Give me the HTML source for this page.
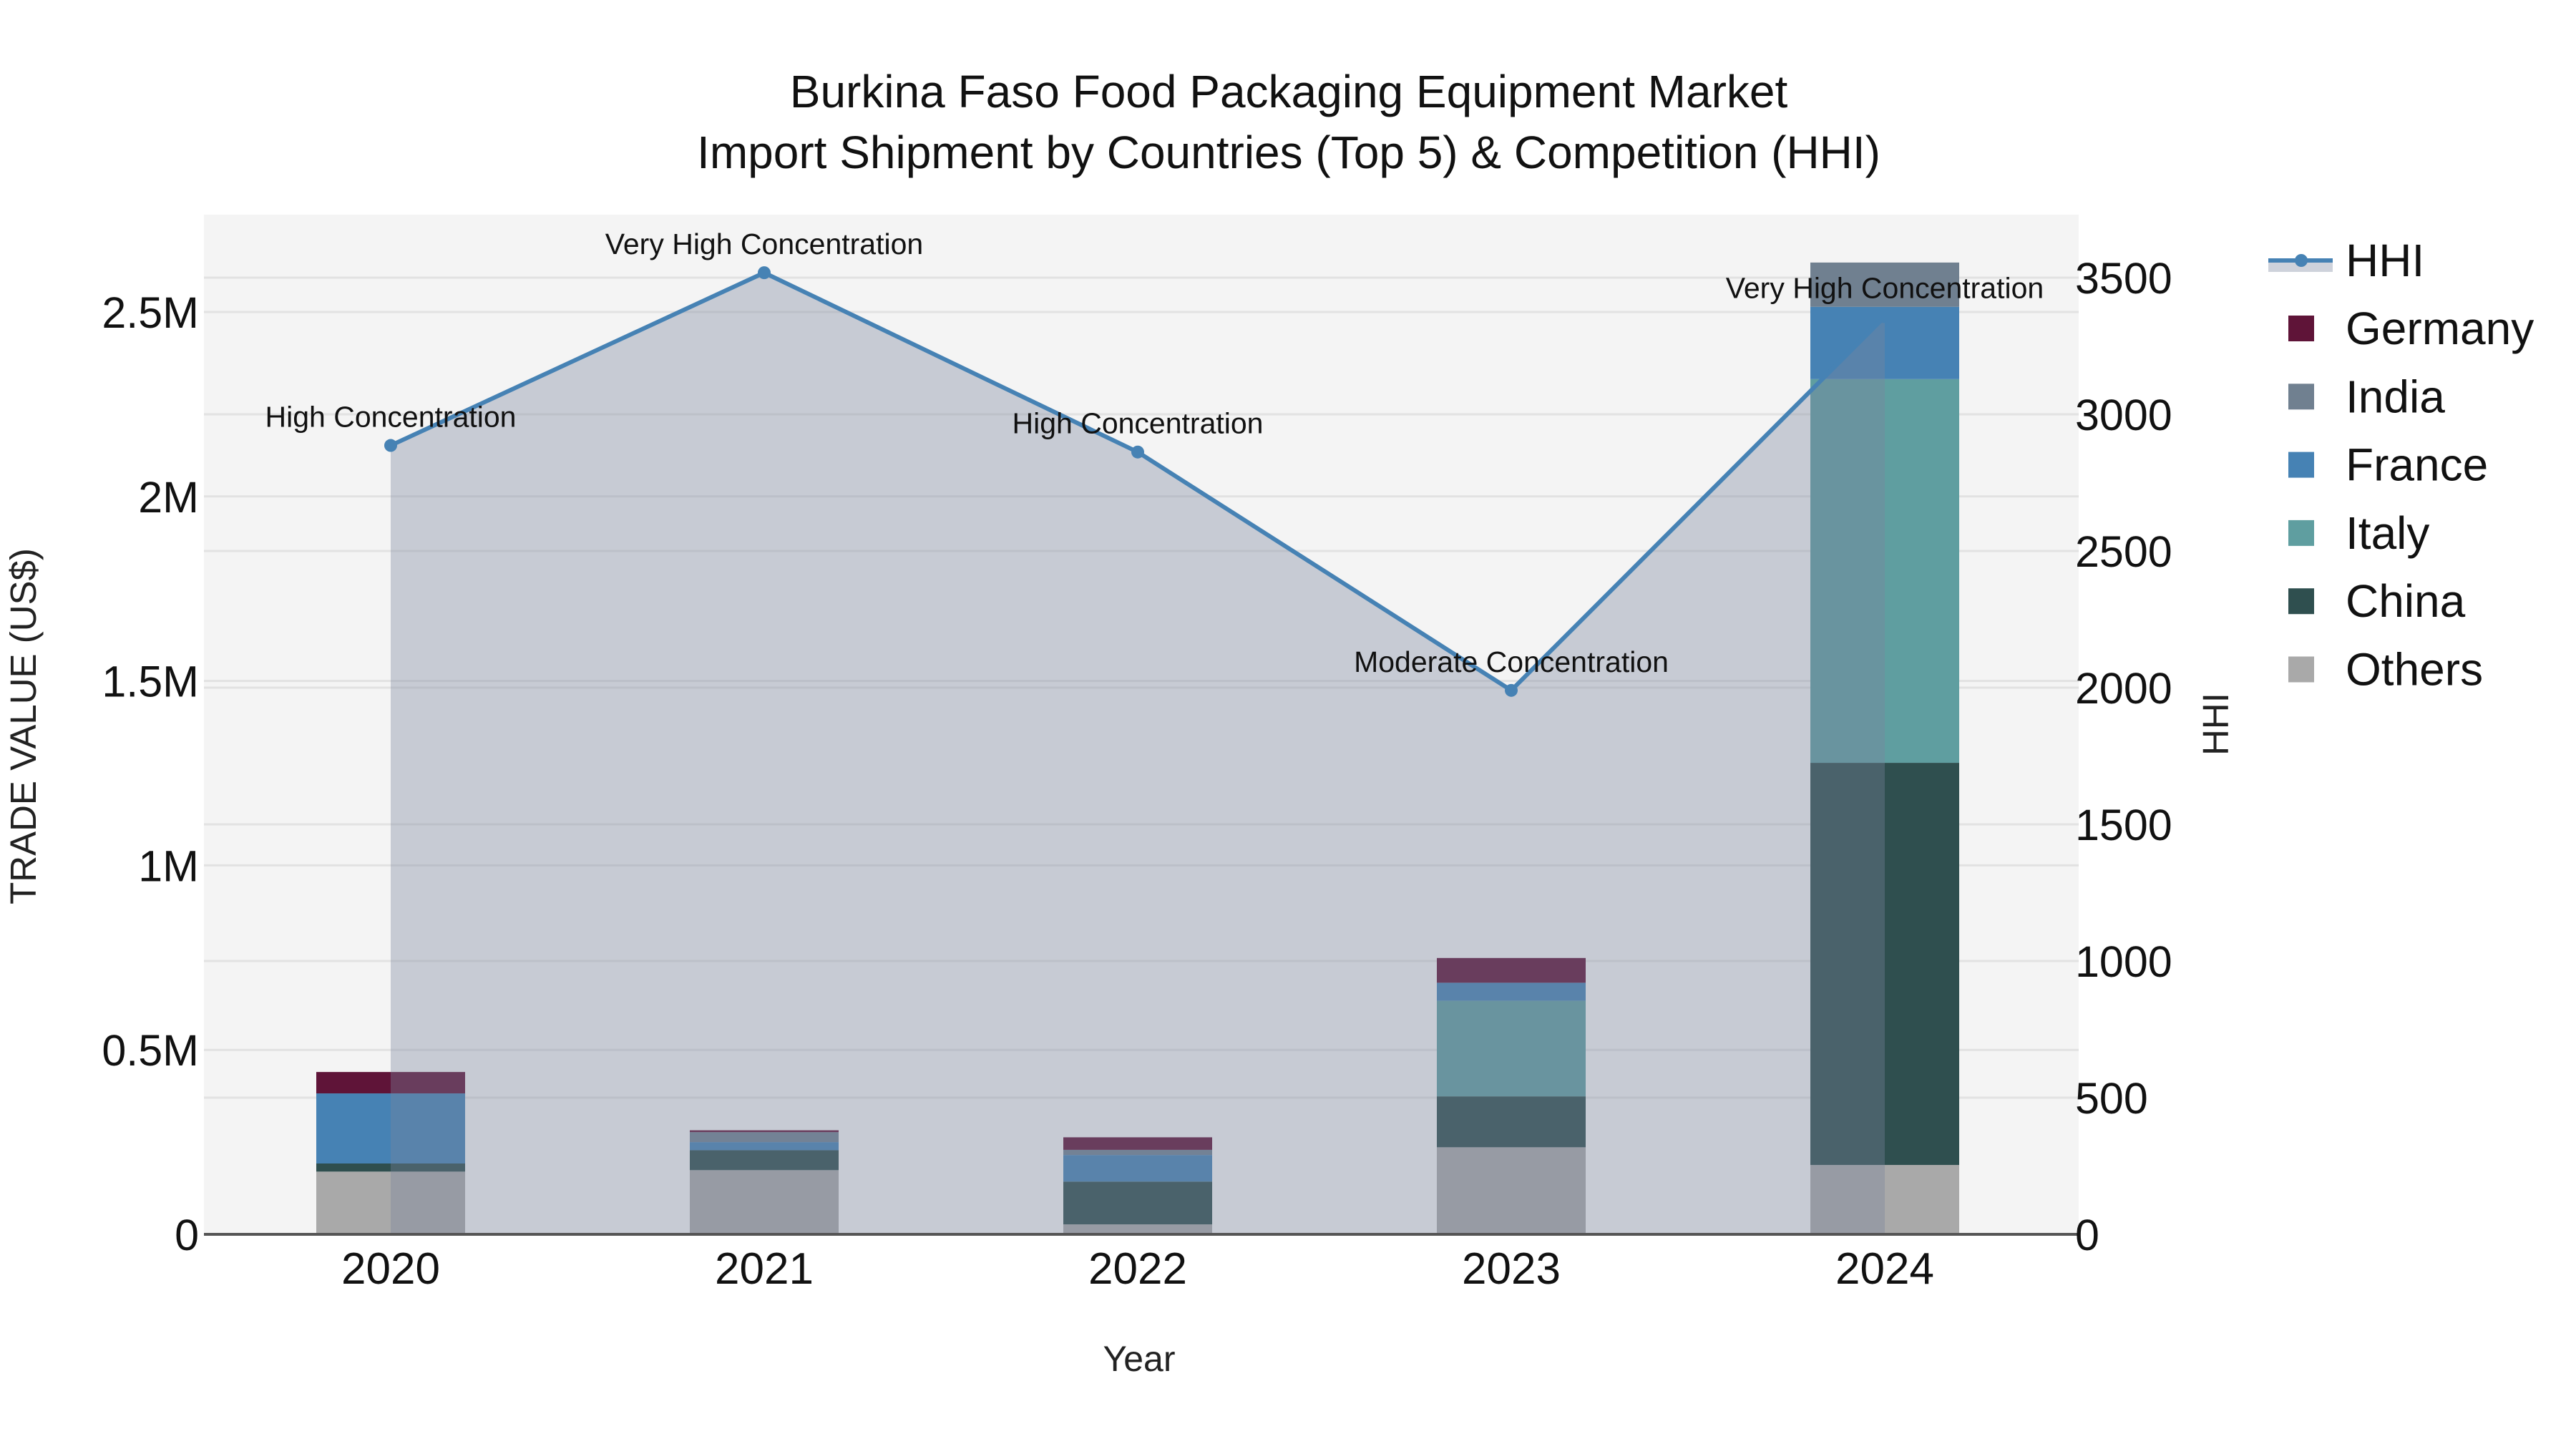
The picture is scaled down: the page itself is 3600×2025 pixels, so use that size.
<!DOCTYPE html>
<html><head><meta charset="utf-8"><style>
html,body{margin:0;padding:0;background:#fff;}
svg{display:block;font-family:"Liberation Sans",Arial,sans-serif;}
</style></head><body>
<svg id="chart" width="3600" height="2025" viewBox="0 0 3600 2025" xmlns="http://www.w3.org/2000/svg">
<text x="1801" y="150" font-size="64" text-anchor="middle" fill="#111">Burkina Faso Food Packaging Equipment Market</text>
<text x="1801" y="235" font-size="64" text-anchor="middle" fill="#111">Import Shipment by Countries (Top 5) &amp; Competition (HHI)</text>
<rect x="285" y="300" width="2620" height="1425" fill="#f4f4f4"/>
<g id="grid"></g>
<g id="bars"></g>
<g id="hhi"></g>
<line x1="285" y1="1725" x2="2905" y2="1725" stroke="#555" stroke-width="4"/>
<g id="ticks"></g>
<text x="1592" y="1916" font-size="50" text-anchor="middle" fill="#222">Year</text>
<text x="50" y="1015" font-size="51" text-anchor="middle" fill="#222" transform="rotate(-90 50 1015)">TRADE VALUE (US$)</text>
<text x="3114" y="1012" font-size="51" text-anchor="middle" fill="#222" transform="rotate(-90 3114 1012)">HHI</text>
<g id="legend"></g>
</svg>
<script>
const years = ["2020","2021","2022","2023","2024"];
const seriesNames = ["Others","China","Italy","France","India","Germany"];
const others  = [0.170, 0.174, 0.027, 0.236, 0.188];
const china   = [0.022, 0.054, 0.116, 0.138, 1.090];
const italy   = [0.000, 0.000, 0.000, 0.259, 1.040];
const france  = [0.190, 0.022, 0.072, 0.049, 0.196];
const india   = [0.000, 0.027, 0.014, 0.000, 0.120];
const germany = [0.058, 0.005, 0.034, 0.067, 0.000];
const hhi = [2886, 3518, 2862, 1990, 3357];
const hhiLabels = ["High Concentration","Very High Concentration","High Concentration","Moderate Concentration","Very High Concentration"];
const leftTicks = [0, 0.5, 1, 1.5, 2, 2.5];
const leftTickLabels = ["0","0.5M","1M","1.5M","2M","2.5M"];
const rightTicks = [0, 500, 1000, 1500, 2000, 2500, 3000, 3500];

const colors = {Others:"#a9a9a9",China:"#2f4f4f",Italy:"#5f9ea0",France:"#4682b4",India:"#708090",Germany:"#5f1438"};
const seriesData = {Others:others,China:china,Italy:italy,France:france,India:india,Germany:germany};
const NS="http://www.w3.org/2000/svg";
const X0=546, DX=522, BASE=1725, PXM=515.6, PXH=0.382, BW=208;
const xs = i => X0 + i*DX;
const yl = v => BASE - v*PXM;
const yr = v => BASE - v*PXH;
function mk(tag, attrs, parent){const e=document.createElementNS(NS,tag);for(const k in attrs)e.setAttribute(k,attrs[k]);parent.appendChild(e);return e;}
const grid=document.getElementById('grid'), bars=document.getElementById('bars'), hg=document.getElementById('hhi'), tk=document.getElementById('ticks'), lg=document.getElementById('legend');

leftTicks.forEach((t,i)=>{
  if(t>0){const l=mk('line',{x1:285,x2:2905,y1:yl(t),y2:yl(t),stroke:"#e2e2e2","stroke-width":3},grid);
  
  }
  const tx=mk('text',{x:278,y:yl(t)+22,"font-size":61,"text-anchor":"end",fill:"#111"},tk);
  tx.textContent=leftTickLabels[i];
  
  
});
rightTicks.forEach(t=>{
  if(t>0){const l=mk('line',{x1:285,x2:2905,y1:yr(t),y2:yr(t),stroke:"#e2e2e2","stroke-width":3},grid);
  
  }
  const tx=mk('text',{x:2900,y:yr(t)+22,"font-size":61,fill:"#111"},tk);
  tx.textContent=String(t);
  
  
});
years.forEach((y,i)=>{
  const tx=mk('text',{x:xs(i),y:1794,"font-size":62,"text-anchor":"middle",fill:"#111"},tk);
  tx.textContent=y;
  
  
  let acc=0;
  seriesNames.forEach(s=>{
    const v=seriesData[s][i]; if(v<=0) return;
    const r=mk('rect',{x:xs(i)-BW/2,y:yl(acc+v),width:BW,height:v*PXM,fill:colors[s]},bars);
    
    
    acc+=v;
  });
});
let pts=hhi.map((v,i)=>xs(i)+','+yr(v)).join(' ');
const area=mk('polygon',{points:xs(0)+','+BASE+' '+pts+' '+xs(hhi.length-1)+','+BASE,fill:"rgb(123,134,156)","fill-opacity":0.37},hg);


const line=mk('polyline',{points:pts,fill:"none",stroke:"#4682b4","stroke-width":6},hg);


hhi.forEach((v,i)=>{
  const c=mk('circle',{cx:xs(i),cy:yr(v),r:9,fill:"#4682b4"},hg);
  
  
  const t=mk('text',{x:xs(i),y:yr(v)-26,"font-size":41,"text-anchor":"middle",fill:"#111"},hg);
  t.textContent=hhiLabels[i];
  
  
});
// legend
const lr=mk('rect',{x:3170,y:364,width:90,height:16,fill:"rgb(123,134,156)","fill-opacity":0.37},lg);


const ll=mk('line',{x1:3170,x2:3260,y1:364,y2:364,stroke:"#4682b4","stroke-width":6},lg);


const lc=mk('circle',{cx:3216,cy:364,r:9,fill:"#4682b4"},lg);


const lt=mk('text',{x:3278,y:386,"font-size":64,fill:"#111"},lg);
lt.textContent="HHI";


["Germany","India","France","Italy","China","Others"].forEach((s,k)=>{
  const cy=459+k*95.3;
  const r=mk('rect',{x:3198,y:cy-18,width:36,height:36,fill:colors[s]},lg);
  
  
  const t=mk('text',{x:3278,y:cy+22,"font-size":64,fill:"#111"},lg);
  t.textContent=s;
  
  
});
</script>
</body></html>
